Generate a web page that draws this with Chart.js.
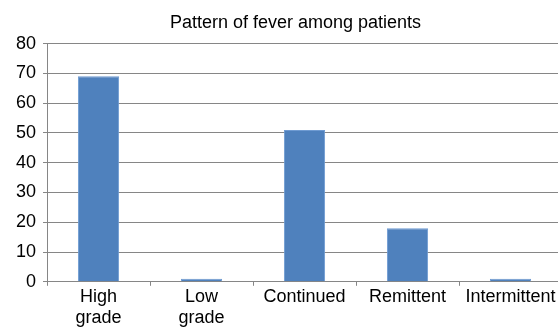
<!DOCTYPE html>
<html>
<head>
<meta charset="utf-8">
<script src="https://cdn.jsdelivr.net/npm/chart.js@4"></script>
<style>
    html, body { margin: 0; padding: 0; background: #fff; overflow: hidden; }
    #wrap { width: 562px; height: 329px; }
</style>
</head>
<body>
<div id="wrap"><canvas id="fever-chart"></canvas></div>
<script>
// Données
const categories = [['High', 'grade'], ['Low', 'grade'], 'Continued', 'Remittent', 'Intermittent'];
const patients = [69, 1, 51, 18, 1];
const yTicks = [0, 10, 20, 30, 40, 50, 60, 70, 80];

Chart.defaults.font.family = '"Liberation Sans", Arial, sans-serif';
Chart.defaults.color = '#000';

// Décale le titre pour le centrer comme l'original
const titleShift = {
    id: 'titleShift',
    afterLayout(chart) {
        chart.titleBlock.left += 10;
        chart.titleBlock.right += 10;
    }
};

const ctx = document.getElementById('fever-chart');
new Chart(ctx, {
    type: 'bar',
    data: {
        labels: categories,
        datasets: [{
            data: patients,
            backgroundColor: '#4f81bd',
            borderColor: '#6f9bd2',
            borderWidth: 1,
            barPercentage: 0.4,
            categoryPercentage: 1
        }]
    },
    options: {
        responsive: true,
        maintainAspectRatio: false,
        animation: false,
        layout: {
            padding: { left: 9, right: 0, top: 0, bottom: 0 }
        },
        plugins: {
            legend: { display: false },
            tooltip: { enabled: false },
            title: {
                display: true,
                text: 'Pattern of fever among patients',
                font: { size: 18, weight: 'normal' },
                color: '#000',
                padding: { top: 12, bottom: 10 }
            }
        },
        scales: {
            x: {
                grid: {
                    drawOnChartArea: false,
                    drawTicks: true,
                    tickLength: 4,
                    color: '#868686'
                },
                border: { color: '#868686' },
                ticks: {
                    font: { size: 18 },
                    color: '#000',
                    padding: 0,
                    maxRotation: 0,
                    autoSkip: false
                }
            },
            y: {
                min: 0,
                max: 80,
                afterBuildTicks(axis) {
                    axis.ticks = yTicks.map(v => ({ value: v }));
                },
                grid: {
                    color: '#868686',
                    tickLength: 4
                },
                border: { color: '#868686' },
                ticks: {
                    font: { size: 18 },
                    color: '#000',
                    padding: 7
                }
            }
        }
    },
    plugins: [titleShift]
});
</script>
</body>
</html>
